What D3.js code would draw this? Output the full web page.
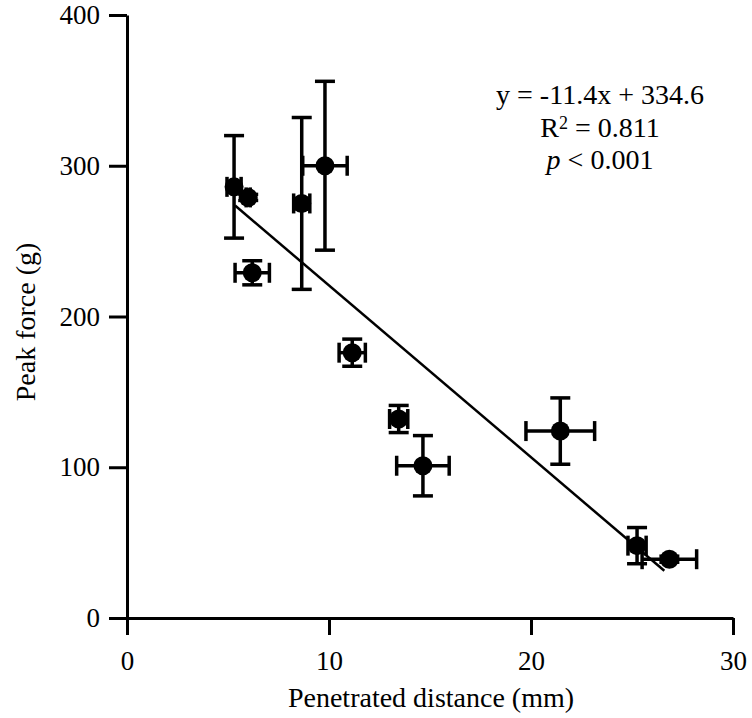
<!DOCTYPE html>
<html>
<head>
<meta charset="utf-8">
<script src="https://cdn.jsdelivr.net/npm/d3@7"></script>
<style>
  body { margin: 0; background: #fff; }
  text { font-family: "Liberation Serif", "Times New Roman", serif; fill: #000; }
</style>
</head>
<body>
<svg id="chart" width="752" height="718"></svg>
<script>
// penetrated distance (mm) and peak force (g), with error bars
var distance  = [5.3, 6.0, 8.65, 9.8, 6.2, 11.15, 13.45, 14.65, 21.45, 25.25, 26.85];
var distErr   = [0.35, 0.1, 0.4, 1.1, 0.85, 0.65, 0.45, 1.3, 1.7, 0.45, 1.35];
var force     = [286, 279, 275, 300, 229, 176, 132, 101, 124, 48, 39];
var forceErr  = [34, 2, 57, 56, 8, 9, 9, 20, 22, 12, 2];

var xTicks = [0, 10, 20, 30];
var yTicks = [0, 100, 200, 300, 400];

// fitted line y = -11.4x + 334.6
var slope = -11.4, intercept = 334.6;
var fitRange = [5.35, 26.6];
var eqLines = ["y = -11.4x + 334.6", "R2 = 0.811", "p < 0.001"];

var data = distance.map(function(d, i) {
  return {x: d, xe: distErr[i], y: force[i], ye: forceErr[i]};
});

var svg = d3.select("#chart");

var xScale = d3.scaleLinear().domain([0, 30]).range([127, 733]);
var yScale = d3.scaleLinear().domain([0, 400]).range([618, 15]);

var xAxis = d3.axisBottom(xScale).tickValues(xTicks).tickSize(17).tickSizeOuter(0).tickPadding(16);
var yAxis = d3.axisLeft(yScale).tickValues(yTicks).tickSize(18).tickSizeOuter(0).tickPadding(9);

var gx = svg.append("g")
  .attr("transform", "translate(0,618)")
  .call(xAxis);
var gy = svg.append("g")
  .attr("transform", "translate(127,0)")
  .call(yAxis);

[gx, gy].forEach(function(g) {
  g.selectAll("path, line").attr("stroke", "#000").attr("stroke-width", 3);
  g.selectAll("text").style("font-size", "27px").attr("fill", "#000");
});

svg.append("text")
  .attr("x", 431)
  .attr("y", 707)
  .attr("text-anchor", "middle")
  .style("font-size", "28px")
  .text("Penetrated distance (mm)");

svg.append("text")
  .attr("transform", "translate(35,322) rotate(-90)")
  .attr("text-anchor", "middle")
  .style("font-size", "28px")
  .text("Peak force (g)");

// regression line
svg.append("line")
  .attr("x1", xScale(fitRange[0]))
  .attr("y1", yScale(slope * fitRange[0] + intercept))
  .attr("x2", xScale(fitRange[1]))
  .attr("y2", yScale(slope * fitRange[1] + intercept))
  .attr("stroke", "#000")
  .attr("stroke-width", 2.5);

var cap = 10;
var pts = svg.append("g").selectAll("g")
  .data(data)
  .enter()
  .append("g");

pts.each(function(d) {
  var g = d3.select(this);
  var cx = xScale(d.x), cy = yScale(d.y);
  var x0 = xScale(d.x - d.xe), x1 = xScale(d.x + d.xe);
  var y0 = yScale(d.y - d.ye), y1 = yScale(d.y + d.ye);
  var segs = [
    [cx, y0, cx, y1], [cx - cap, y0, cx + cap, y0], [cx - cap, y1, cx + cap, y1],
    [x0, cy, x1, cy], [x0, cy - cap, x0, cy + cap], [x1, cy - cap, x1, cy + cap]
  ];
  g.selectAll("line").data(segs).enter().append("line")
    .attr("x1", s => s[0]).attr("y1", s => s[1])
    .attr("x2", s => s[2]).attr("y2", s => s[3])
    .attr("stroke", "#000")
    .attr("stroke-width", 3.5);
  g.append("circle")
    .attr("cx", cx)
    .attr("cy", cy)
    .attr("r", 9.5)
    .attr("fill", "#000");
});

// equation text
var eq = svg.append("text")
  .attr("text-anchor", "middle")
  .style("font-size", "28px");
eq.append("tspan").attr("x", 600).attr("y", 104).text(eqLines[0]);
var l2 = eq.append("tspan").attr("x", 600).attr("y", 137);
l2.append("tspan").text("R");
l2.append("tspan").attr("dy", -8).style("font-size", "18px").text("2");
l2.append("tspan").attr("dy", 8).text(" = 0.811");
var l3 = eq.append("tspan").attr("x", 600).attr("y", 169);
l3.append("tspan").style("font-style", "italic").text("p");
l3.append("tspan").text(" < 0.001");
</script>
</body>
</html>
